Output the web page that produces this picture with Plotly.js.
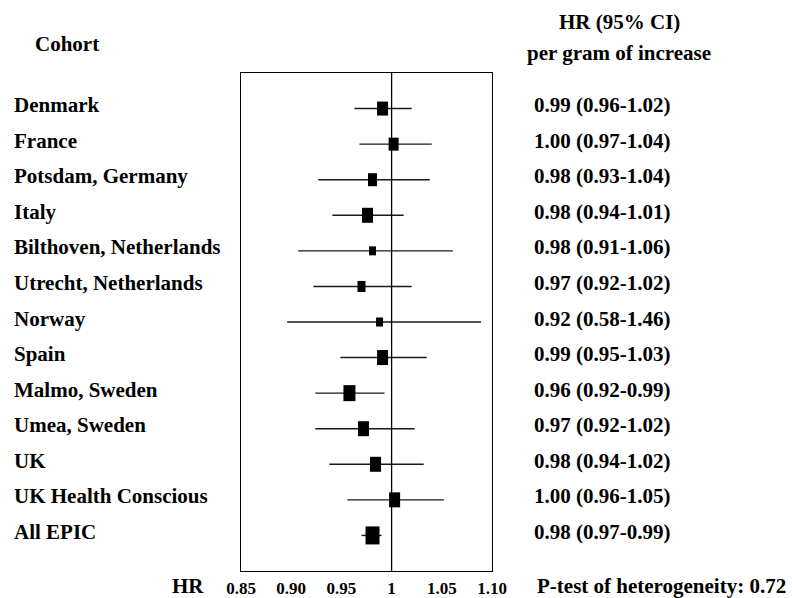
<!DOCTYPE html>
<html>
<head>
<meta charset="utf-8">
<script src="https://cdn.plot.ly/plotly-3.0.1.min.js"></script>
<style>html,body{margin:0;padding:0;background:#fff;}#chart{width:792px;height:598px;}</style>
</head>
<body>
<div id="chart"></div>
<script>
// ---------- data ----------
const cohorts = ["Denmark", "France", "Potsdam, Germany", "Italy", "Bilthoven, Netherlands",
  "Utrecht, Netherlands", "Norway", "Spain", "Malmo, Sweden", "Umea, Sweden", "UK",
  "UK Health Conscious", "All EPIC"];
// plotted point estimates and CI ends (as drawn)
const hr   = [0.991, 1.002, 0.981, 0.976, 0.981, 0.970, 0.988, 0.991, 0.958, 0.972, 0.984, 1.003, 0.981];
const ciLo = [0.963, 0.968, 0.927, 0.941, 0.907, 0.922, 0.896, 0.949, 0.924, 0.924, 0.938, 0.956, 0.970];
const ciHi = [1.020, 1.040, 1.038, 1.012, 1.061, 1.020, 1.089, 1.035, 0.993, 1.023, 1.032, 1.052, 0.990];
// reported HR (95% CI) text
const hrText = ["0.99 (0.96-1.02)", "1.00 (0.97-1.04)", "0.98 (0.93-1.04)", "0.98 (0.94-1.01)",
  "0.98 (0.91-1.06)", "0.97 (0.92-1.02)", "0.92 (0.58-1.46)", "0.99 (0.95-1.03)",
  "0.96 (0.92-0.99)", "0.97 (0.92-1.02)", "0.98 (0.94-1.02)", "1.00 (0.96-1.05)", "0.98 (0.97-0.99)"];
const tickVals = [0.85, 0.90, 0.95, 1.00, 1.05, 1.10];
const tickText = ["0.85", "0.90", "0.95", "1", "1.05", "1.10"];
const refHR = 1;
const pHet = "0.72";

// ---------- style ----------
const boxW = [11, 10, 9, 11, 7, 8, 7, 11, 12, 11, 11, 11, 14];
const boxH = [14, 13, 13, 15, 9, 11, 9, 15, 16, 15, 15, 15, 18];
const FONT = "Liberation Serif, Times New Roman, serif";
const W = 792, H = 598;
const M = {l: 241, r: 300, t: 73, b: 27};
const pw = W - M.l - M.r, ph = H - M.t - M.b;
const px2x = p => (p - M.l) / pw;
const px2y = p => (H - M.b - p) / ph;

const rows = cohorts.map((_, i) => i + 1);

// CI lines
const lx = [], ly = [];
rows.forEach((r, i) => { lx.push(ciLo[i], ciHi[i], null); ly.push(r, r, null); });

const traces = [{
  type: "scatter", mode: "lines", x: lx, y: ly,
  line: {color: "#1a1a1a", width: 1.4}, hoverinfo: "skip", showlegend: false
}];

const shapes = [{
  type: "line", xref: "x", yref: "paper", x0: refHR, x1: refHR, y0: 0, y1: 1,
  line: {color: "#000", width: 1.3}
}];
rows.forEach((r, i) => {
  shapes.push({
    type: "rect", xref: "x", yref: "y",
    xsizemode: "pixel", ysizemode: "pixel",
    xanchor: hr[i], yanchor: r,
    x0: -boxW[i] / 2, x1: boxW[i] / 2, y0: -boxH[i] / 2, y1: boxH[i] / 2,
    fillcolor: "#000", line: {width: 0}
  });
});

const bold = (s) => ({family: FONT, size: s, color: "#000", weight: "bold"});
const annotations = [];
rows.forEach((r, i) => {
  annotations.push({xref: "paper", yref: "y", x: px2x(12), y: r, yshift: 3.5,
    xanchor: "left", yanchor: "middle", text: "<b>" + cohorts[i] + "</b>", showarrow: false, font: bold(21)});
  annotations.push({xref: "paper", yref: "y", x: px2x(532), y: r, yshift: 3.5,
    xanchor: "left", yanchor: "middle", text: "<b>" + hrText[i] + "</b>", showarrow: false, font: bold(21)});
});
annotations.push({xref: "paper", yref: "paper", x: px2x(33), y: px2y(44), xanchor: "left", yanchor: "middle",
  text: "<b>Cohort</b>", showarrow: false, font: bold(21)});
annotations.push({xref: "paper", yref: "paper", x: px2x(619), y: px2y(21.5), xanchor: "center", yanchor: "middle",
  text: "<b>HR (95% CI)</b>", showarrow: false, font: bold(21)});
annotations.push({xref: "paper", yref: "paper", x: px2x(619), y: px2y(53), xanchor: "center", yanchor: "middle",
  text: "<b>per gram of increase</b>", showarrow: false, font: bold(21)});
annotations.push({xref: "paper", yref: "paper", x: px2x(188), y: px2y(586), xanchor: "center", yanchor: "middle",
  text: "<b>HR</b>", showarrow: false, font: bold(21)});
annotations.push({xref: "paper", yref: "paper", x: px2x(535), y: px2y(586), xanchor: "left", yanchor: "middle",
  text: "<b>P-test of heterogeneity: " + pHet + "</b>", showarrow: false, font: bold(21)});

const layout = {
  width: W, height: H, margin: M,
  paper_bgcolor: "#fff", plot_bgcolor: "#fff",
  showlegend: false,
  xaxis: {
    range: [tickVals[0], tickVals[tickVals.length - 1]],
    tickvals: tickVals, ticktext: tickText, ticks: "",
    tickfont: bold(17), ticklabelstandoff: 1,
    showgrid: false, zeroline: false,
    showline: true, mirror: true, linecolor: "#000", linewidth: 1.3
  },
  yaxis: {
    range: [cohorts.length + 1, 0],
    showticklabels: false, ticks: "", showgrid: false, zeroline: false,
    showline: true, mirror: true, linecolor: "#000", linewidth: 1.3
  },
  shapes: shapes,
  annotations: annotations
};

Plotly.newPlot("chart", traces, layout, {displayModeBar: false, staticPlot: true});
</script>
</body>
</html>
